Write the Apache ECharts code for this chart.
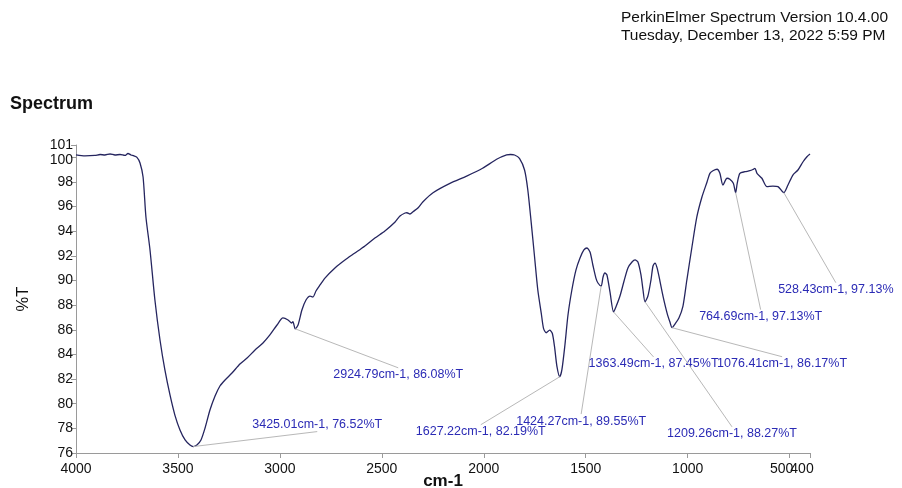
<!DOCTYPE html>
<html>
<head>
<meta charset="utf-8">
<title>Spectrum</title>
<script src="https://cdn.jsdelivr.net/npm/echarts@6/dist/echarts.min.js"></script>
<style>
  html, body { margin: 0; padding: 0; background: #ffffff; }
  #chart { width: 902px; height: 488px; }
</style>
</head>
<body>
<div id="chart"></div>
<script>
// IR transmittance spectrum: wavenumber (cm-1) and %T
const wavenumbers = [
  4000, 3956, 3907, 3882, 3858, 3833, 3809, 3784, 3760, 3745, 3730, 3716, 3701, 3686, 3671, 3657,
  3637, 3613, 3588, 3564, 3539, 3515, 3490, 3465, 3441, 3425.01, 3407, 3387, 3367, 3343, 3318, 3294,
  3269, 3235, 3196, 3161, 3122, 3083, 3049, 3014, 2985, 2960, 2942, 2936, 2924.79, 2911, 2892, 2872,
  2852, 2838, 2823, 2803, 2779, 2730, 2681, 2632, 2583, 2534, 2485, 2435, 2411, 2386, 2377, 2362,
  2347, 2323, 2298, 2249, 2166, 2084, 2006, 1937, 1888, 1869, 1849, 1825, 1800, 1784, 1767, 1751,
  1735, 1718, 1707, 1694, 1677, 1664, 1653, 1641, 1627.22, 1617, 1602, 1587, 1568, 1548, 1528, 1509,
  1494, 1479, 1465, 1450, 1440, 1424.27, 1415, 1406, 1396, 1381, 1363.49, 1352, 1332, 1312, 1293, 1273,
  1258, 1244, 1229, 1219, 1209.26, 1195, 1180, 1170, 1160, 1150, 1136, 1121, 1101, 1087, 1076.41, 1062,
  1043, 1023, 1004, 979, 955, 930, 905, 891, 876, 856, 842, 827, 807, 793, 776, 764.69,
  757, 744, 719, 695, 680, 670, 660, 636, 611, 582, 557, 528.43, 508, 484, 459, 434,
  415, 400
];
const transmittance = [
  100.19, 100.11, 100.15, 100.23, 100.19, 100.27, 100.19, 100.23, 100.15, 100.31, 100.19, 100.11, 99.99, 99.54, 98.40, 95.16,
  92.48, 88.42, 85.17, 82.74, 80.71, 79.08, 77.87, 77.06, 76.65, 76.52, 76.65, 77.06, 78.03, 79.49, 80.63, 81.44,
  81.93, 82.49, 83.22, 83.71, 84.36, 84.93, 85.58, 86.39, 86.96, 86.80, 86.55, 86.66, 86.08, 86.39, 87.61, 88.42,
  88.74, 88.66, 89.15, 89.64, 90.20, 91.02, 91.67, 92.23, 92.80, 93.45, 94.02, 94.75, 95.24, 95.48, 95.50, 95.40,
  95.59, 95.89, 96.40, 97.13, 97.89, 98.48, 99.11, 99.84, 100.19, 100.23, 100.19, 99.92, 98.97, 97.35, 94.64, 91.93,
  89.23, 87.34, 86.12, 85.76, 85.98, 85.72, 84.63, 83.01, 82.19, 82.74, 84.77, 87.20, 89.23, 90.85, 91.83, 92.48,
  92.64, 92.31, 91.26, 90.20, 89.80, 89.55, 90.29, 90.61, 90.45, 89.07, 87.45, 87.85, 88.74, 89.96, 91.02, 91.50,
  91.67, 91.50, 90.45, 89.23, 88.27, 88.74, 90.04, 91.18, 91.42, 91.02, 89.96, 88.74, 87.36, 86.63, 86.17, 86.47,
  86.96, 87.93, 90.04, 92.72, 95.16, 96.78, 98.00, 98.70, 98.91, 99.03, 98.70, 97.75, 98.30, 98.22, 97.89, 97.13,
  97.89, 98.70, 98.83, 98.91, 99.01, 99.11, 98.70, 98.30, 97.62, 97.67, 97.62, 97.13, 97.75, 98.56, 98.97, 99.64,
  100.05, 100.27
];

// Labelled peaks
const peakWavenumbers = [3425.01, 2924.79, 1627.22, 1424.27, 1363.49, 1209.26, 1076.41, 764.69, 528.43];
const peakTransmittance = [76.52, 86.08, 82.19, 89.55, 87.45, 88.27, 86.17, 97.13, 97.13];
const peakSuffix = ['%T', '%T', '%T', '%T', '%T', '%T', '%T', '%T', '%'];

// Axis tick values; the range end values get their own label axis so they are never dropped
const xTicks = [4000, 3500, 3000, 2500, 2000, 1500, 1000, 500, 400];
const xLabels = [4000, 3500, 3000, 2500, 2000, 1500, 1000, 500];
const xEndLabels = [400];
const yTicks = [76, 78, 80, 82, 84, 86, 88, 90, 92, 94, 96, 98, 100, 101];
const yLabels = [76, 78, 80, 82, 84, 86, 88, 90, 92, 94, 96, 98, 100];
const yEndLabels = [101];

// Callout placement (pixel offset of label centre from its peak)
const calloutOffsets = [
  [124, -22], [103, 46], [-79, 55], [-20, 135], [40, 52],
  [87, 132], [110, 36], [25, 124], [52, 97]
];

const spectrum = wavenumbers.map((w, i) => [w, transmittance[i]]);
const peaks = peakWavenumbers.map((w, i) => [w, peakTransmittance[i]]);

const chart = echarts.init(document.getElementById('chart'), null, { renderer: 'canvas' });
const axisGrey = '#9a9a9a';
const ink = '#111111';
const fontFamily = 'Arial, "Liberation Sans", Helvetica, sans-serif';

// crowded labels at the ends of the ranges are nudged apart, as the instrument software prints them
const xLabelFormatter = v => (v <= 500 ? '{s|' + v + '}' : String(v));
const xLabelRich = { s: { fontSize: 14, color: ink, padding: [0, 16, 0, 0] } };
const yLabelFormatter = v => (v === 100 ? '{d|100}' : String(v));
const yLabelRich = { d: { fontSize: 14, color: ink, padding: [6, 0, 0, 0] } };

const baseX = {
  type: 'value', inverse: true, min: 400, max: 4000, position: 'bottom',
  splitLine: { show: false }
};
const baseY = {
  type: 'value', min: 76, max: 101, position: 'left',
  splitLine: { show: false }
};

chart.setOption({
  animation: false,
  backgroundColor: '#ffffff',
  textStyle: { fontFamily: fontFamily },
  title: {
    text: 'Spectrum',
    left: 5,
    top: 90,
    textStyle: { fontSize: 18, fontWeight: 'bold', color: ink, fontFamily: fontFamily }
  },
  graphic: [
    {
      type: 'text', right: 14, top: 9,
      style: {
        text: 'PerkinElmer Spectrum Version 10.4.00\nTuesday, December 13, 2022 5:59 PM',
        fill: ink, font: '15.5px ' + fontFamily, align: 'right', lineHeight: 18
      }
    }
  ],
  grid: { left: 76, right: 92, top: 145, bottom: 35, containLabel: false, outerBoundsMode: 'none' },
  xAxis: [
    Object.assign({}, baseX, {
      name: 'cm-1',
      nameLocation: 'middle',
      nameGap: 20,
      nameMoveOverlap: false,
      nameTextStyle: { fontSize: 17, fontWeight: 'bold', color: ink },
      axisLine: { lineStyle: { color: axisGrey, width: 1 } },
      axisTick: { show: true, length: 5, lineStyle: { color: axisGrey }, customValues: xTicks },
      axisLabel: {
        customValues: xLabels, fontSize: 14, color: ink, margin: 9,
        formatter: xLabelFormatter, rich: xLabelRich
      }
    }),
    Object.assign({}, baseX, {
      axisLine: { show: false },
      axisTick: { show: false },
      axisLabel: {
        customValues: xEndLabels, fontSize: 14, color: ink, margin: 9,
        formatter: xLabelFormatter, rich: xLabelRich
      }
    })
  ],
  yAxis: [
    Object.assign({}, baseY, {
      name: '%T',
      nameLocation: 'middle',
      nameGap: 44,
      nameRotate: 90,
      nameMoveOverlap: false,
      nameTextStyle: { fontSize: 16.5, color: ink },
      axisLine: { show: true, lineStyle: { color: axisGrey, width: 1 } },
      axisTick: { show: true, length: 5, lineStyle: { color: axisGrey }, customValues: yTicks },
      axisLabel: {
        customValues: yLabels, fontSize: 14, color: ink, margin: 3,
        formatter: yLabelFormatter, rich: yLabelRich
      }
    }),
    Object.assign({}, baseY, {
      axisLine: { show: false },
      axisTick: { show: false },
      axisLabel: { customValues: yEndLabels, fontSize: 14, color: ink, margin: 3, formatter: v => String(v) }
    })
  ],
  series: [
    {
      type: 'line',
      xAxisIndex: 0,
      yAxisIndex: 0,
      data: spectrum,
      showSymbol: false,
      smooth: 0.25,
      lineStyle: { color: '#25255f', width: 1.3 },
      z: 3
    },
    {
      type: 'custom',
      xAxisIndex: 0,
      yAxisIndex: 0,
      data: peaks,
      clip: false,
      z: 4,
      renderItem: function (params, api) {
        const i = params.dataIndex;
        const w = api.value(0);
        const t = api.value(1);
        const p = api.coord([w, t]);
        const off = calloutOffsets[i];
        const cx = p[0] + off[0];
        const cy = p[1] + off[1];
        const ey = off[1] > 0 ? cy - 7 : cy + 7;
        return {
          type: 'group',
          children: [
            {
              type: 'line',
              shape: { x1: p[0], y1: p[1], x2: cx, y2: ey },
              style: { stroke: '#b8b8b8', lineWidth: 1 }
            },
            {
              type: 'text',
              x: cx, y: cy,
              style: {
                text: w.toFixed(2) + 'cm-1, ' + t.toFixed(2) + peakSuffix[i],
                fill: '#2b2bb5',
                font: '12.5px ' + fontFamily,
                align: 'center',
                verticalAlign: 'middle'
              }
            }
          ]
        };
      }
    }
  ]
});
</script>
</body>
</html>
